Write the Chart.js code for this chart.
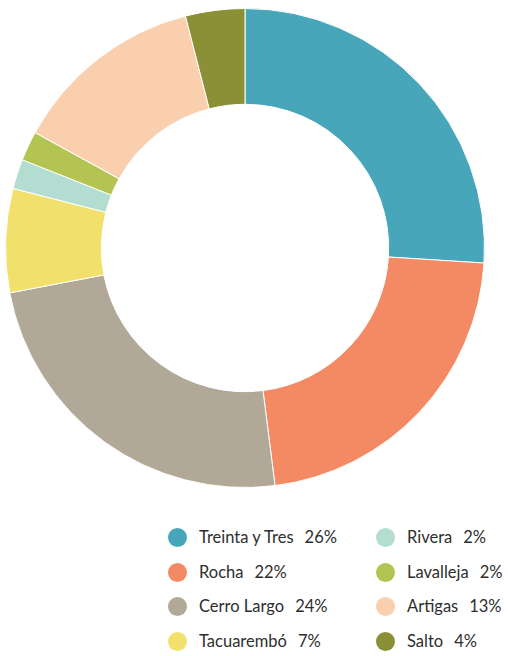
<!DOCTYPE html>
<html>
<head>
<meta charset="utf-8">
<script src="https://cdn.jsdelivr.net/npm/chart.js@4/dist/chart.umd.min.js"></script>
<style>
  html, body { margin: 0; padding: 0; background: #fff; }
  body { width: 508px; height: 656px; position: relative; overflow: hidden; font-family: Lato, "Open Sans", sans-serif; }
  #wrap { position: absolute; left: 5px; top: 8px; width: 480px; height: 480px; }
  .leyenda { position: absolute; top: 527px; font-size: 16.5px; color: #2e2e2e; }
  .leyenda .item { height: 34.5px; display: flex; align-items: flex-start; white-space: nowrap; }
  .leyenda .dot { width: 19px; height: 19px; border-radius: 50%; margin-right: 12px; margin-top: 1px; }
  .leyenda .pct { margin-left: 11px; }
  #col1 { left: 168px; }
  #col2 { left: 376px; }
</style>
</head>
<body>
<div id="wrap"><canvas id="dona"></canvas></div>
<div class="leyenda" id="col1"></div>
<div class="leyenda" id="col2"></div>
<script>
// departamentos y porcentajes (en orden horario desde arriba)
const departamentos = ['Treinta y Tres', 'Rocha', 'Cerro Largo', 'Tacuarembó', 'Rivera', 'Lavalleja', 'Artigas', 'Salto'];
const porcentajes = [26, 22, 24, 7, 2, 2, 13, 4];
const colores = ['#48a6ba', '#f48a63', '#b1a898', '#f2e06c', '#b3ddd0', '#b4c452', '#f9cfae', '#8b8f35'];

document.addEventListener('DOMContentLoaded', function() {
    new Chart(document.getElementById('dona'), {
        type: 'doughnut',
        data: {
            labels: departamentos,
            datasets: [{
                data: porcentajes,
                backgroundColor: colores,
                borderColor: '#fff',
                borderWidth: 1
            }]
        },
        options: {
            responsive: true,
            maintainAspectRatio: false,
            animation: false,
            cutout: '60%',
            layout: { padding: 0 },
            plugins: {
                legend: { display: false },
                tooltip: { enabled: false }
            }
        }
    });

    // leyenda en dos columnas de 4
    departamentos.forEach(function(nombre, i) {
        const col = document.getElementById(i < 4 ? 'col1' : 'col2');
        const item = document.createElement('div');
        item.className = 'item';
        item.innerHTML = '<span class="dot" style="background:' + colores[i] + '"></span>' +
            '<span>' + nombre + '</span><span class="pct">' + porcentajes[i] + '%</span>';
        col.appendChild(item);
    });
});
</script>
</body>
</html>
